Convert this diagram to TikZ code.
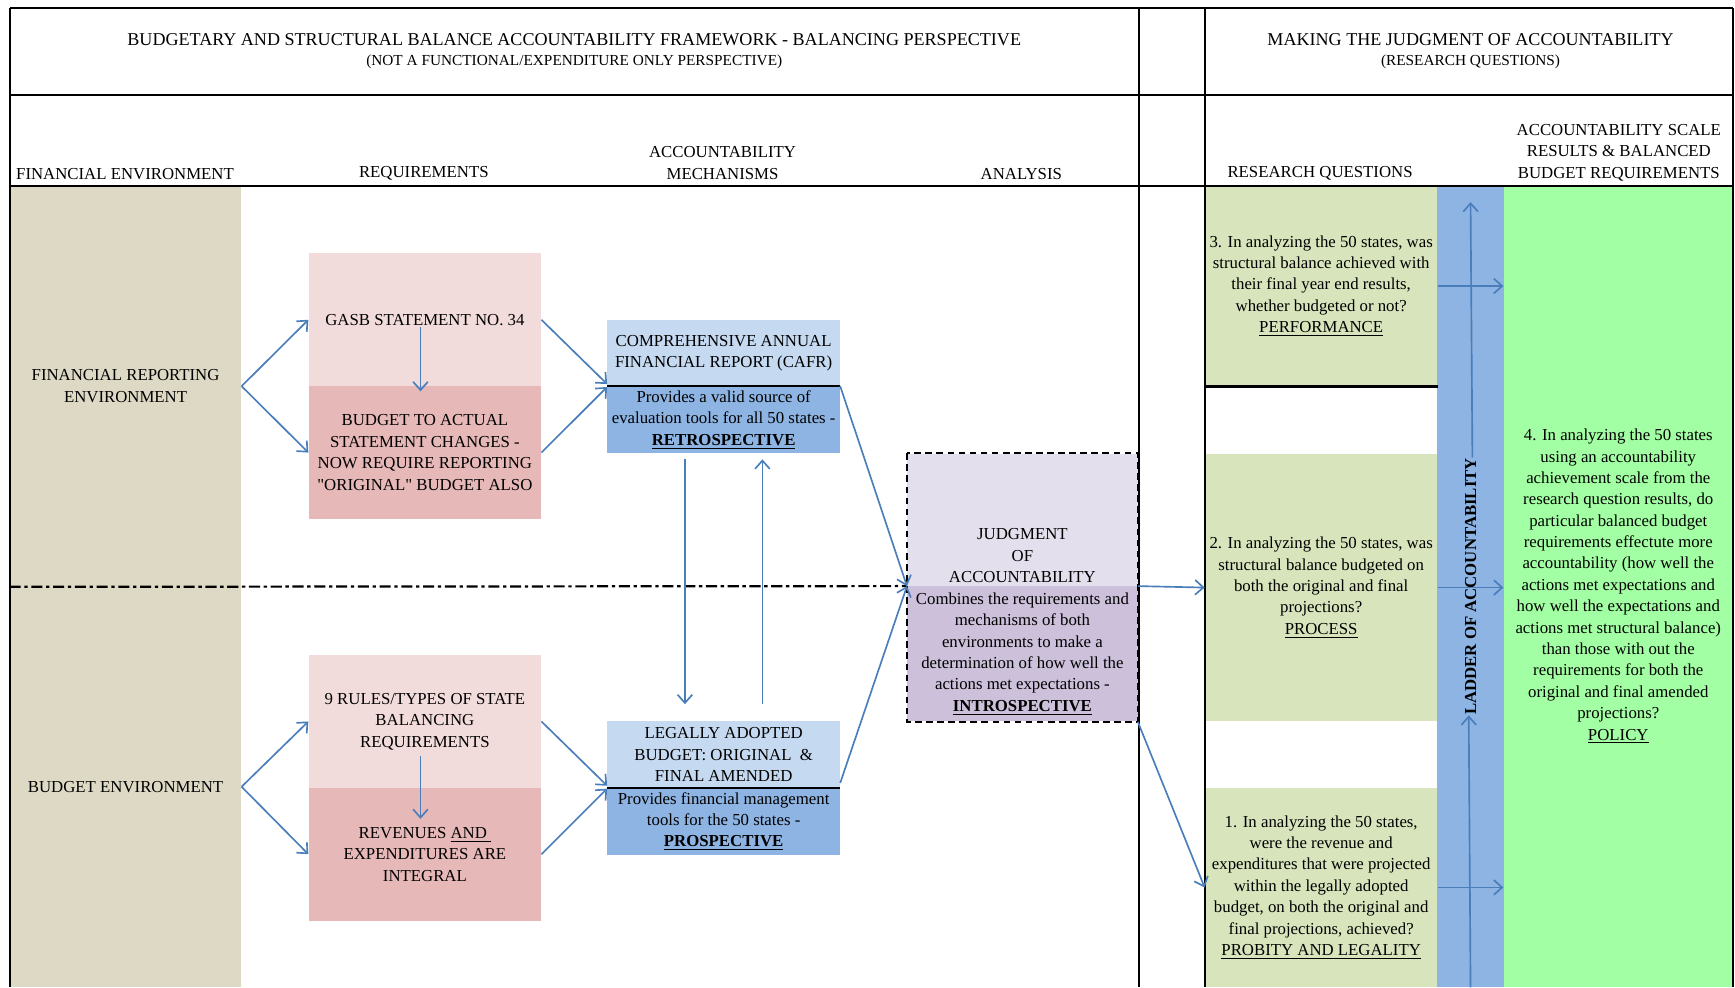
\documentclass[tikz,border=0pt]{standalone}
\usepackage{fontspec}
\setmainfont{Liberation Serif}
\usepackage{xcolor}
\usetikzlibrary{arrows.meta}

\definecolor{tanbg}{HTML}{DDD9C4}
\definecolor{pinklt}{HTML}{F2DCDB}
\definecolor{pinkdk}{HTML}{E6B8B7}
\definecolor{bluelt}{HTML}{C5D9F1}
\definecolor{bluedk}{HTML}{8DB4E2}
\definecolor{lavlt}{HTML}{E4DFEC}
\definecolor{lavdk}{HTML}{CCC0DA}
\definecolor{olivelt}{HTML}{D8E4BC}
\definecolor{greenbr}{HTML}{A3FFA3}
\definecolor{arrblue}{HTML}{4A7EBB}
\newcommand\bodyfont{\fontsize{9.1}{11.6}\selectfont}

\begin{document}
\begin{tikzpicture}[
  x=0.6pt, y=-0.6pt, font=\bodyfont,
  box/.style={inner sep=0pt, align=center, minimum width=126pt},
  env/.style={box, fill=tanbg, minimum width=125.4pt, minimum height=217.2pt},
  reqa/.style={box, fill=pinklt, minimum height=72pt},
  reqb/.style={box, fill=pinkdk, minimum height=72pt},
  mecha/.style={box, fill=bluelt, minimum height=36.3pt},
  mechb/.style={box, fill=bluedk, minimum height=36.3pt},
  rq/.style={box, fill=olivelt},
  hdr/.style={align=center, inner sep=0pt},
  tline/.style={line width=1.2pt},
  arr/.style={-{Straight Barb[length=4.5pt,width=8pt]}, arrblue, line width=0.9pt}]
  \useasboundingbox (0,0) rectangle (1568,892);
  % --- titles ---
  \node[hdr, font=\fontsize{9.8}{12}\selectfont] (title) at (519,36) {BUDGETARY AND STRUCTURAL BALANCE ACCOUNTABILITY FRAMEWORK - BALANCING PERSPECTIVE};
  \node[hdr, font=\fontsize{8.3}{10}\selectfont] (subtitle) at (519,56) {(NOT A FUNCTIONAL/EXPENDITURE ONLY PERSPECTIVE)};
  \node[hdr, font=\fontsize{9.8}{12}\selectfont] (rtitle) at (1329,36) {MAKING THE JUDGMENT OF ACCOUNTABILITY};
  \node[hdr, font=\fontsize{8.3}{10}\selectfont] (rsubtitle) at (1329,56) {(RESEARCH QUESTIONS)};
  % --- column heads ---
  \node[hdr] (hfin)   at (113,157)   {FINANCIAL ENVIRONMENT};
  \node[hdr] (hreq)   at (383,157)   {REQUIREMENTS};
  \node[hdr] (hmech)  at (653,147.5) {ACCOUNTABILITY\\MECHANISMS};
  \node[hdr] (hana)   at (923,157)   {ANALYSIS};
  \node[hdr] (hrq)    at (1193,157)  {RESEARCH QUESTIONS};
  \node[hdr] (hscale) at (1463,138)  {ACCOUNTABILITY SCALE\\RESULTS \& BALANCED\\BUDGET REQUIREMENTS};
  % --- environments ---
  \node[env] (finenv) at (113.5,349) {FINANCIAL REPORTING\\ENVIRONMENT};
  \node[env] (budenv) at (113.5,711) {BUDGET ENVIRONMENT};
  % --- requirements ---
  \node[reqa] (gasb)   at (384,289) {GASB STATEMENT NO. 34};
  \node[reqb] (btoa)   at (384,409) {BUDGET TO ACTUAL\\STATEMENT CHANGES -\\NOW REQUIRE REPORTING\\\textquotedbl ORIGINAL\textquotedbl\ BUDGET ALSO};
  \node[reqa] (rules)  at (384,652) {9 RULES/TYPES OF STATE\\BALANCING\\REQUIREMENTS};
  \node[reqb] (revexp) at (384,772) {REVENUES \underline{AND\ }\\EXPENDITURES ARE\\INTEGRAL};
  % --- mechanisms ---
  \node[mecha] (cafr)      at (654,319)   {COMPREHENSIVE ANNUAL\\FINANCIAL REPORT (CAFR)};
  \node[mechb] (cafrnote)  at (654,379.5) {Provides a valid source of\\evaluation tools for all 50 states -\\\textbf{\underline{RETROSPECTIVE}}};
  \node[mecha] (legal)     at (654,682)   {LEGALLY ADOPTED\\BUDGET: ORIGINAL \ \&\\FINAL AMENDED};
  \node[mechb] (legalnote) at (654,742.5) {Provides financial management\\tools for the 50 states -\\\textbf{\underline{PROSPECTIVE}}};
  % --- analysis ---
  \node[box, fill=lavlt, minimum width=124.8pt, minimum height=72pt] (judg) at (924,470) {};
  \node[hdr, anchor=south] (judgtxt) at ([yshift=2pt]judg.south) {JUDGMENT\\OF\\ACCOUNTABILITY};
  \node[box, fill=lavdk, minimum width=124.8pt, minimum height=73.2pt] (judgnote) at (924,591) {Combines the requirements and\\mechanisms of both\\environments to make a\\determination of how well the\\actions met expectations -\\\textbf{\underline{INTROSPECTIVE}}};
  % --- research questions ---
  \node[rq, minimum height=108.6pt] (rq3) at (1194,258.5) {3. In analyzing the 50 states, was\\structural balance achieved with\\their final year end results,\\whether budgeted or not?\\\underline{PERFORMANCE}};
  \node[rq, minimum height=145.2pt] (rq2) at (1194,531) {2. In analyzing the 50 states, was\\structural balance budgeted on\\both the original and final\\projections?\\\underline{PROCESS}};
  \node[rq, minimum height=108pt] (rq1) at (1194,802) {1. In analyzing the 50 states,\\were the revenue and\\expenditures that were projected\\within the legally adopted\\budget, on both the original and\\final projections, achieved?\\\underline{PROBITY AND LEGALITY}};
  \node[box, fill=bluedk, minimum width=36pt, minimum height=434.4pt] (ladder) at (1329,530) {};
  \node[hdr, rotate=90, font=\bodyfont\bfseries] (laddertxt) at (ladder.center) {LADDER OF ACCOUNTABILITY};
  \node[box, fill=greenbr, minimum width=124.2pt, minimum height=434.4pt] (policy) at (1462.5,530) {4. In analyzing the 50 states\\using an accountability\\achievement scale from the\\research question results, do\\particular balanced budget\\requirements effectute more\\accountability (how well the\\actions met expectations and\\how well the expectations and\\actions met structural balance)\\than those with out the\\requirements for both the\\original and final amended\\projections?\\\underline{POLICY}};
  % --- table rules ---
  \draw[tline] (9,7) -- (1566,7);
  \draw[tline] (9,86) -- (1566,86);
  \draw[tline] (9,168) -- (1566,168);
  \foreach \xx in {9,1029,1089,1566} \draw[tline] (\xx,7) -- (\xx,892);
  \draw[tline] (cafrnote.north west) -- (cafrnote.north east);
  \draw[tline] (legalnote.north west) -- (legalnote.north east);
  \draw[tline] (rq3.south west) -- (rq3.south east);
  \draw[tline, dash pattern=on 6pt off 2pt on 1.8pt off 2pt] (finenv.south west) -- (judgnote.north west);
  \draw[tline, dash pattern=on 3.6pt off 2.4pt] (judg.north west) rectangle (judgnote.south east);
  % --- arrows ---
  \draw[arr] (finenv.east) -- (gasb.west);
  \draw[arr] (finenv.east) -- (btoa.west);
  \draw[arr] ([xshift=-2.4pt,yshift=-4pt]gasb.center) -- ([xshift=-2.4pt,yshift=-3pt]btoa.north);
  \draw[arr] (budenv.east) -- (rules.west);
  \draw[arr] (budenv.east) -- (revexp.west);
  \draw[arr] ([xshift=-2.4pt,yshift=-18.6pt]rules.center) -- ([xshift=-2.4pt,yshift=-17pt]revexp.north);
  \draw[arr] (gasb.east) -- ([yshift=1.5pt]cafr.south west);
  \draw[arr] (btoa.east) -- ([yshift=-0.5pt]cafrnote.north west);
  \draw[arr] (rules.east) -- ([yshift=1.5pt]legal.south west);
  \draw[arr] (revexp.east) -- ([yshift=-0.5pt]legalnote.north west);
  \draw[arr] ([xshift=-21pt,yshift=-3pt]cafrnote.south) -- ([xshift=-21pt,yshift=9pt]legal.north);
  \draw[arr] ([xshift=21pt,yshift=9pt]legal.north) -- ([xshift=21pt,yshift=-3pt]cafrnote.south);
  \draw[arr] (cafrnote.north east) -- (judgnote.north west);
  \draw[arr] ([yshift=3pt]legal.south east) -- (judgnote.north west);
  \draw[arr] (judgnote.north east) -- (rq2.west);
  \draw[arr] (judgnote.south east) -- (rq1.west);
  \draw[arr] (ladder.south) -- ([xshift=-1pt]laddertxt.west);
  \draw[arr] ([xshift=1pt]laddertxt.east) -- ([yshift=-9pt]ladder.north);
  \draw[arr] (rq3.east) -- (rq3.east -| policy.west);
  \draw[arr] (rq2.east) -- (rq2.east -| policy.west);
  \draw[arr] (rq1.east) -- (rq1.east -| policy.west);
\end{tikzpicture}
\end{document}
